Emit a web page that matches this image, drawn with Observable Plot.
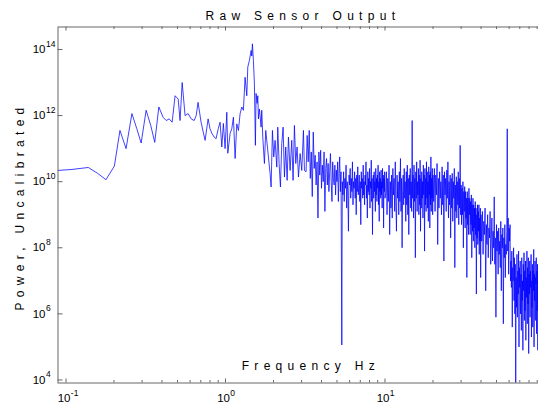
<!DOCTYPE html>
<html><head><meta charset="utf-8">
<script src="https://cdn.jsdelivr.net/npm/d3@7"></script>
<script src="https://cdn.jsdelivr.net/npm/@observablehq/plot@0.6"></script>
<style>
html,body{margin:0;padding:0;background:#fff;overflow:hidden}
#chart{width:538px;height:402px;overflow:hidden}
#chart svg{max-width:none !important}
</style></head><body><div id="chart"></div>
<script>
// ---- data (frequency in Hz, power as log10 exponent) ----
const freqA = [0.0891,0.109,0.138,0.158,0.178,0.201,0.218,0.238,0.259,0.278,0.296,0.318,0.34,0.36,0.382,0.406,0.425,0.443,0.463,0.483,0.505,0.519,0.535,0.558,0.583,0.609,0.636,0.655,0.673,0.703,0.725,0.745,0.778,0.80,0.824,0.85,0.873,0.90,0.925,0.948,0.970,0.994,1.019,1.034,1.069,1.095,1.121,1.149,1.177,1.205,1.235,1.265,1.295,1.327,1.360,1.380,1.412,1.448,1.462,1.475,1.496,1.518,1.540,1.555,1.578,1.594,1.609,1.632,1.672,1.688,1.713,1.754,1.788,1.814,1.858,1.904,1.932,1.969,2.007,2.046,2.097,2.127,2.168,2.210,2.253,2.297,2.342,2.387,2.434,2.481,2.541,2.603,2.653,2.705,2.758,2.811,2.867,2.936,3.007,3.081,3.126];
const powA = [10.34,10.37,10.43,10.25,10.06,10.47,11.55,11.0,12.06,11.6,11.17,12.16,11.7,11.19,12.26,11.95,11.85,11.9,11.8,12.6,12.5,11.85,13.0,12.0,12.06,11.9,11.85,12.0,12.4,11.8,11.5,11.25,11.9,11.6,11.45,11.35,11.3,11.6,11.8,11.05,11.76,11.0,12.1,10.86,11.46,11.6,11.95,10.7,11.75,11.55,12.06,12.26,12.16,13.16,12.6,13.47,13.67,13.97,13.8,14.17,13.67,12.96,11.1,12.67,12.37,12.6,11.9,12.2,11.65,12.16,11.35,10.55,11.55,11.25,10.75,10.24,9.84,11.55,10.75,11.25,10.44,11.65,10.55,9.84,11.15,11.65,10.14,11.05,10.04,11.35,10.34,11.25,10.04,11.7,10.55,11.05,10.14,10.85,10.34,11.55,10.34];

const freqB = [3.2,3.25,3.3,3.35,3.4,3.45,3.5,3.55,3.6,3.65,3.7,3.75,3.8,3.85,3.9,3.95,4.0,4.05,4.1,4.15,4.2,4.25,4.3,4.35,4.4,4.45,4.5,4.55,4.6,4.65,4.7,4.75,4.8,4.85,4.9,4.95,5.0,5.05,5.1,5.15,5.2,5.25,5.3,5.36];
const powB = [10.3,11.4,10.6,11.55,10.1,10.9,9.55,11.5,10.4,10.8,9.9,10.6,8.9,10.9,10.2,10.95,9.8,10.5,10.0,10.9,9.1,10.4,10.7,9.9,10.55,9.7,10.3,10.85,10.0,9.4,10.6,10.1,9.9,10.5,9.6,10.35,10.0,10.6,9.4,10.25,10.75,9.7,10.3,5.06];

const freqC = [5.4,5.45,5.5,5.55,5.6,5.65,5.7,5.75,5.8,5.85,5.9,5.95,6.0,6.05,6.1,6.15,6.2,6.25,6.3,6.35,6.4,6.45,6.5,6.55,6.6,6.65,6.7,6.75,6.8,6.85,6.9,6.95,7.0,7.05,7.1,7.15,7.2,7.25,7.3,7.35,7.4,7.45,7.5,7.55,7.6,7.65,7.7,7.75,7.8,7.85,7.9,7.95,8.0,8.05,8.1,8.15,8.2,8.25,8.3,8.35,8.4,8.45,8.5,8.55,8.6,8.65,8.7,8.75,8.8,8.85,8.9,8.95,9.0,9.05,9.1,9.15,9.2,9.25,9.3,9.35,9.4,9.45,9.5,9.55,9.6,9.65,9.7,9.75,9.8,9.85,9.9,9.95,10.0];
const powC = [10.0,9.6,10.3,9.4,10.1,9.8,10.5,9.2,10.0,9.7,
8.5,10.2,9.9,10.4,9.5,10.1,9.7,10.6,9.3,10.0,
9.8,10.3,9.5,10.1,9.0,10.2,9.7,10.45,9.6,9.9,
10.2,9.4,10.0,8.7,10.3,9.8,10.1,9.5,10.5,9.6,
10.0,9.3,10.2,9.9,10.6,9.5,9.9,8.9,10.3,9.7,
10.1,9.6,10.4,9.2,10.0,9.8,10.65,9.4,10.1,8.4,
9.9,10.2,9.5,10.3,9.7,10.0,9.1,10.4,9.6,10.1,
9.4,10.2,9.8,10.5,9.3,10.0,8.8,10.3,9.7,10.1,
9.5,10.35,9.6,10.0,9.2,10.4,9.8,10.2,8.6,10.1,
9.7,10.3,9.5];

const freqD = [10.1,10.2,10.3,10.4,10.5,10.6,10.7,10.8,10.9,11.0,11.1,11.2,11.3,11.4,11.5,11.6,11.7,11.8,11.9,12.0,12.1,12.2,12.3,12.4,12.5,12.6,12.7,12.8,12.9,13.0,13.1,13.2,13.3,13.4,13.5,13.6,13.7,13.8,13.9,14.0,14.1,14.2,14.3,14.4,14.5,14.6,14.7,14.8,14.9,15.0,15.1,15.2,15.3,15.4,15.5,15.6,15.7,15.8,15.9,16.0,16.1,16.2,16.3,16.4,16.5,16.6,16.7,16.8,16.9,17.0,17.1,17.2,17.3,17.4,17.5,17.6,17.7,17.8,17.9,18.0,18.1,18.2,18.3,18.4,18.5,18.6,18.7,18.8,18.9,19.0,19.1,19.2,19.3,19.4,19.5,19.6,19.7,19.8,19.9,20.0];
const powD = [9.6,10.3,9.0,10.1,9.4,10.5,8.4,10.0,9.2,10.2,
8.9,10.4,9.6,10.1,9.1,10.6,9.4,8.5,10.2,9.5,
10.0,9.0,10.3,9.4,10.7,9.1,10.1,8.0,9.7,10.2,
9.3,10.4,9.5,10.0,8.8,10.3,9.3,10.5,9.0,10.1,
8.4,10.2,9.6,10.4,9.2,10.0,9.1,11.85,9.5,10.2,
8.9,10.5,9.4,10.1,7.7,10.3,9.5,10.6,9.1,10.0,
9.6,10.4,9.0,10.2,9.3,10.65,8.5,10.1,9.2,10.3,
9.5,10.0,8.9,10.5,9.6,10.2,7.9,10.4,9.3,10.1,
9.1,10.6,9.5,10.3,9.2,10.0,8.8,10.45,9.6,10.2,
8.6,10.3,9.3,10.75,9.1,10.1,9.5,10.4,9.0,10.2];

const freqE = [20.2,20.4,20.6,20.8,21.0,21.2,21.4,21.6,21.8,22.0,22.2,22.4,22.6,22.8,23.0,23.2,23.4,23.6,23.8,24.0,24.2,24.4,24.6,24.8,25.0,25.2,25.4,25.6,25.8,26.0,26.2,26.4,26.6,26.8,27.0,27.2,27.4,27.6,27.8,28.0,28.2,28.4,28.6,28.8,29.0,29.2,29.4,29.6,29.8,30.0,30.2,30.4,30.6,30.8,31.0,31.2,31.4,31.6,31.8,32.0,32.2,32.4,32.6,32.8,33.0,33.2,33.4,33.6,33.8,34.0,34.2,34.4,34.6,34.8,35.0,35.2,35.4,35.6,35.8,36.0,36.2,36.4,36.6,36.8,37.0,37.2,37.4,37.6,37.8,38.0,38.2,38.4,38.6,38.8,39.0,39.2,39.4,39.6,39.8,40.0];
const powE = [9.4,10.4,9.1,10.2,9.6,10.55,8.1,10.1,9.2,10.3,
9.5,10.0,9.0,10.45,9.3,10.2,7.6,10.3,9.6,10.1,
9.1,10.35,9.5,10.6,8.9,10.0,9.3,10.2,8.3,10.1,
9.2,10.25,8.8,10.0,9.5,10.4,7.4,9.9,9.1,10.15,
8.9,10.0,9.3,10.3,8.7,10.1,9.2,11.1,9.0,9.9,
8.7,9.8,9.0,10.0,8.0,9.7,9.1,9.85,8.6,9.7,
8.9,9.5,7.1,9.7,8.7,9.5,8.4,9.8,9.0,9.5,
8.4,9.4,8.7,9.6,7.7,9.3,8.5,9.5,8.2,9.3,
8.6,9.2,8.0,9.4,8.4,9.2,6.6,9.0,8.3,9.3,
8.1,9.1,8.5,9.3,7.8,8.9,8.2,9.2,7.1,9.0];

const freqF = [40.4,40.8,41.2,41.6,42,42.4,42.8,43.2,43.6,44,44.4,44.8,45.2,45.6,46,46.4,46.8,47.2,47.6,48,48.4,48.8,49.2,49.6,50,50.4,50.8,51.2,51.6,52,52.4,52.8,53.2,53.6,54,54.4,54.8,55.2,55.6,56,56.4,56.8,57.2,57.6,58,58.4,58.8,59.2,59.6,60,60.4,60.8,61.2,61.6,62,62.4,62.8,63.2,63.6,64,64.4,64.8,65.2,65.6,66,66.4,66.8,67.2,67.6,68,68.4,68.8,69.2,69.6,70,70.4,70.8,71.2,71.6,72,72.4,72.8,73.2,73.6,74,74.4,74.8,75.2,75.6,76,76.4,76.8,77.2,77.6,78,78.4,78.8,79.2,79.6,80,80.4,80.8,81.2,81.6,82,82.4,82.8,83.2,83.6,84,84.4,84.8,85.2,85.6,86,86.4,86.8,87.2,87.6,88,88.4,88.8,89.2,89.6,90,90.4,90.8,91.2,91.6,92,92.4,92.8,93.2,93.6,94,94.4,94.8,95.2,95.6,96,96.4,96.8,97.2,97.6,98,98.4,98.8,99.2,99.6,100];
const powF = [8.2,9.1,7.8,8.8,8.4,9.2,6.7,8.7,8.1,9.0,7.7,8.6,8.3,9.1,7.5,
8.3,8.9,7.6,8.5,8.0,9.54,7.5,8.3,5.9,8.7,7.9,8.5,7.2,8.6,7.8,8.2,7.4,8.8,6.7,8.4,8.0,8.6,5.7,8.3,7.7,8.7,7.1,8.1,7.8,8.5,
11.6,
7.9,8.9,7.2,8.6,8.2,8.7,7.0,
7.6,6.8,7.9,5.6,7.4,7.0,8.0,6.4,7.7,6.0,7.5,
3.5,
7.1,6.2,7.8,5.9,7.3,6.6,7.9,5.0,7.4,6.8,7.6,6.0,7.2,5.5,7.7,6.4,7.0,4.9,7.5,6.7,7.85,5.8,7.3,6.1,7.6,5.2,7.1,6.5,7.9,5.7,7.4,6.3,7.7,4.8,7.2,
6.6,7.6,5.9,7.3,6.8,7.8,5.3,7.0,6.2,7.5,5.6,7.3,6.7,7.95,5.0,7.2,6.4,7.6,5.8,7.1,6.9,7.7,5.4,7.3,6.1,7.5,4.9,7.0,6.5,7.4,
5.7,7.2,6.3,7.6,5.1,7.0,6.6,7.4,5.9,7.3,6.0,7.1,5.5,7.5,6.4,7.2,5.8,7.0,6.2,7.3];

// ---- ticks and labels ----
const xMajor = [0.1, 1, 10];
const xExp = ["-1", "0", "1"];
const xMinor = [0.2,0.3,0.4,0.5,0.6,0.7,0.8,0.9,2,3,4,5,6,7,8,9,20,30,40,50,60,70,80,90];
const yMajor = [1e4, 1e6, 1e8, 1e10, 1e12, 1e14];
const yExp = ["4", "6", "8", "10", "12", "14"];
const titleText = "Raw Sensor Output";
const xLabel = "Frequency Hz";
const yLabel = "Power, Uncalibrated";

const segments = [[freqA, powA], [freqB, powB], [freqC, powC], [freqD, powD], [freqE, powE], [freqF, powF]];
const data = segments.flatMap(([f, p]) => f.map((v, i) => ({f: v, p: Math.pow(10, p[i])})));

const W = 544, H = 402, mL = 57.5, mR = 0, mT = 26.5, mB = 19.5;
const frameW = W - mL - mR, frameH = H - mT - mB;
const axisColor = "#666";
const fontFamily = "'Liberation Sans', Arial, Helvetica, sans-serif";

const chart = Plot.plot({
  width: W, height: H,
  marginLeft: mL, marginRight: mR, marginTop: mT, marginBottom: mB,
  style: {fontFamily, fontSize: "11px", background: "#fff", color: "#000", maxWidth: "none"},
  x: {type: "log", domain: [0.0891, 100], axis: null},
  y: {type: "log", domain: [Math.pow(10, 3.909), Math.pow(10, 14.68)], axis: null},
  marks: [
    Plot.line(data, {x: "f", y: "p", stroke: "#0000ff", strokeWidth: 0.75, clip: true}),
    Plot.frame({stroke: axisColor}),
    Plot.tickX(xMajor, {x: d => d, stroke: axisColor, insetTop: frameH - 4}),
    Plot.tickX(xMajor, {x: d => d, stroke: axisColor, insetBottom: frameH - 4}),
    Plot.tickX(xMinor, {x: d => d, stroke: axisColor, insetTop: frameH - 2.5}),
    Plot.tickX(xMinor, {x: d => d, stroke: axisColor, insetBottom: frameH - 2.5}),
    Plot.tickY(yMajor, {y: d => d, stroke: axisColor, insetRight: frameW - 5}),
    Plot.tickY(yMajor, {y: d => d, stroke: axisColor, insetLeft: frameW - 5}),
    Plot.text(xMajor, {x: d => d, frameAnchor: "bottom", text: () => "10", textAnchor: "end", lineAnchor: "bottom", dx: 4.5, dy: 18.5, fontSize: 11.5, fill: "#000"}),
    Plot.text(xMajor, {x: d => d, frameAnchor: "bottom", text: (d, i) => xExp[i], textAnchor: "start", lineAnchor: "bottom", dx: 4.8, dy: 12.5, fontSize: 8.5, fill: "#000"}),
    Plot.text(yMajor, {y: d => d, frameAnchor: "left", text: () => "10", textAnchor: "end", dx: -12.5, fontSize: 11.5, fill: "#000"}),
    Plot.text(yMajor, {y: d => d, frameAnchor: "left", text: (d, i) => yExp[i], textAnchor: "start", lineAnchor: "bottom", dx: -12, dy: -2.5, fontSize: 8.5, fill: "#000"}),
    Plot.text([titleText], {text: d => d, frameAnchor: "top-left", dx: 147.5, dy: -7, textAnchor: "start", lineAnchor: "bottom", fontSize: 12, fill: "#000"}),
    Plot.text([xLabel], {text: d => d, frameAnchor: "bottom-left", dx: 183.7, dy: -13, textAnchor: "start", lineAnchor: "bottom", fontSize: 12, fill: "#000"}),
    Plot.text([yLabel], {text: d => d, frameAnchor: "bottom-left", dx: 23 - mL, dy: 310 - (H - mB), rotate: -90, textAnchor: "start", lineAnchor: "bottom", fontSize: 12, fill: "#000"})
  ]
});

const spaced = [titleText, xLabel, yLabel];
d3.select(chart).selectAll("text")
  .filter(function() { return spaced.includes(this.textContent); })
  .style("letter-spacing", "5.3px");

document.getElementById("chart").appendChild(chart);
</script>
</body></html>
